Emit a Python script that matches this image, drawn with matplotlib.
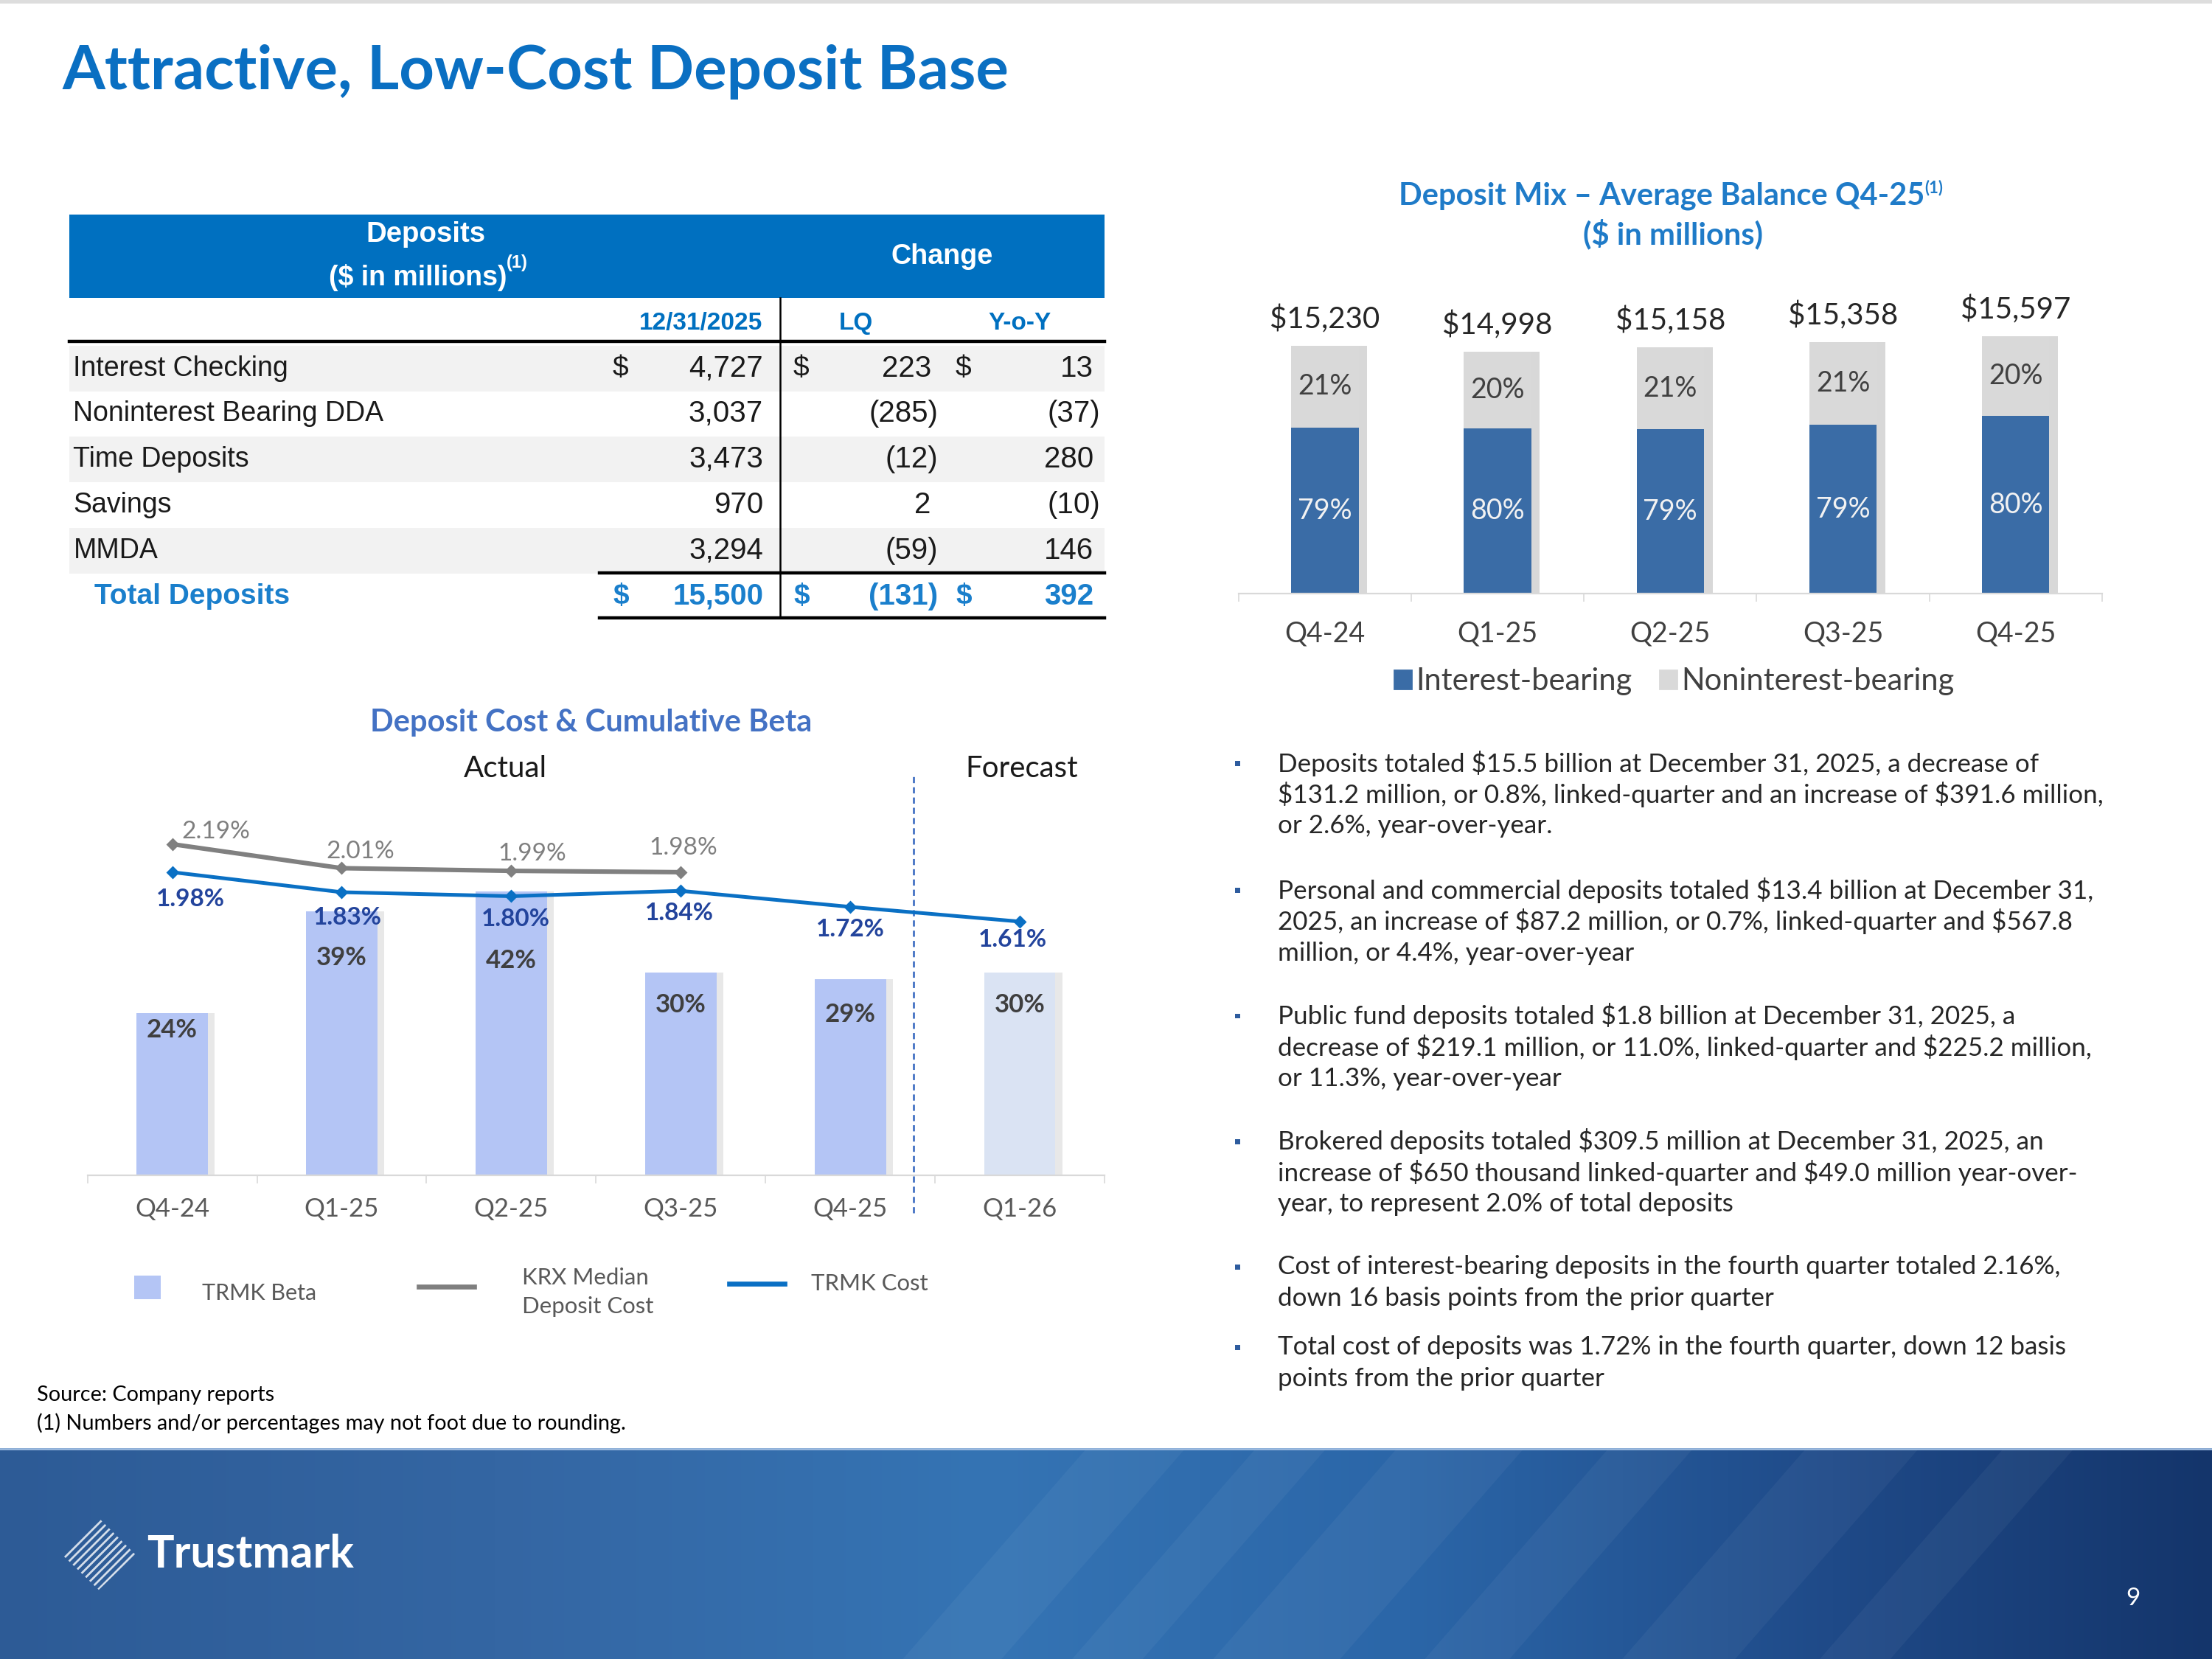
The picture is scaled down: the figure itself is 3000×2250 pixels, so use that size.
import numpy as np
import matplotlib.pyplot as plt
from matplotlib.patches import Rectangle, Polygon
from matplotlib.lines import Line2D
from matplotlib.colors import to_rgb

plt.rcParams['text.parse_math'] = False

# ---- data ----
row_labels = ['Interest Checking', 'Noninterest Bearing DDA', 'Time Deposits', 'Savings', 'MMDA']
balance_1231 = [4727, 3037, 3473, 970, 3294]
change_lq = [223, -285, -12, 2, -59]
change_yoy = [13, -37, 280, -10, 146]
total_row = [15500, -131, 392]

mix_quarters = ['Q4-24', 'Q1-25', 'Q2-25', 'Q3-25', 'Q4-25']
avg_balance = [15230, 14998, 15158, 15358, 15597]
interest_pct = [79, 80, 79, 79, 80]
nonint_pct = [21, 20, 21, 21, 20]

cost_quarters = ['Q4-24', 'Q1-25', 'Q2-25', 'Q3-25', 'Q4-25', 'Q1-26']
trmk_beta = [24, 39, 42, 30, 29, 30]
krx_cost = [2.19, 2.01, 1.99, 1.98]
trmk_cost = [1.98, 1.83, 1.80, 1.84, 1.72, 1.61]

bullets = [
    ["Deposits totaled $15.5 billion at December 31, 2025, a decrease of",
     "$131.2 million, or 0.8%, linked-quarter and an increase of $391.6 million,",
     "or 2.6%, year-over-year."],
    ["Personal and commercial deposits totaled $13.4 billion at December 31,",
     "2025, an increase of $87.2 million, or 0.7%, linked-quarter and $567.8",
     "million, or 4.4%, year-over-year"],
    ["Public fund deposits totaled $1.8 billion at December 31, 2025, a",
     "decrease of $219.1 million, or 11.0%, linked-quarter and $225.2 million,",
     "or 11.3%, year-over-year"],
    ["Brokered deposits totaled $309.5 million at December 31, 2025, an",
     "increase of $650 thousand linked-quarter and $49.0 million year-over-",
     "year, to represent 2.0% of total deposits"],
    ["Cost of interest-bearing deposits in the fourth quarter totaled 2.16%,",
     "down 16 basis points from the prior quarter"],
    ["Total cost of deposits was 1.72% in the fourth quarter, down 12 basis",
     "points from the prior quarter"],
]

# ---- layout helpers (slide in 1568 x 1176 px units) ----
W, H = 1568, 1176
PX = 11.25 * 72 / H   # points per slide px

def rect(x0, y0, x1, y1):
    return [x0 / W, 1 - y1 / H, (x1 - x0) / W, (y1 - y0) / H]

CAL = ['Lato', 'DejaVu Sans']
ARI = ['Liberation Sans', 'DejaVu Sans']
BLUE = '#0070C0'

fig = plt.figure(figsize=(15, 11.25), dpi=200)
bg = fig.add_axes([0, 0, 1, 1])
bg.axis('off')

bg.plot([0, W], [1, 1], color='#DDDDDD', lw=2)
bg.text(44, 51, 'Attractive, Low-Cost Deposit Base', fontsize=30, weight='bold',
        color='#0A6FC2', va='center', family=CAL)

# ---- table ----
bg.add_patch(Rectangle((49, 152), 734, 59, color=BLUE, lw=0))
bg.text(302, 166, 'Deposits', color='white', weight='bold', fontsize=13.8,
        ha='center', va='center', family=ARI)
t = bg.text(296, 197, '($ in millions)', color='white', weight='bold', fontsize=13.5,
            ha='center', va='center', family=ARI)
bg.annotate('(1)', xy=(1, 0.75), xycoords=t, color='white', weight='bold',
            fontsize=8.5, va='bottom', ha='left', family=ARI)
bg.text(668, 182, 'Change', color='white', weight='bold', fontsize=13.6,
        ha='center', va='center', family=ARI)
for xh, lab in [(497, '12/31/2025'), (607, 'LQ'), (723, 'Y-o-Y')]:
    bg.text(xh, 229, lab, color=BLUE, weight='bold', fontsize=12,
            ha='center', va='center', family=ARI)

row_top, row_h = 245, 32.3

def acct(v):
    return f'({abs(v):,})' if v < 0 else f'{v:,}'

def num(xr, y, v, **kw):
    bg.text(xr if v < 0 else xr - 5, y, acct(v), ha='right', va='center',
            fontsize=14.5, family=ARI, **kw)

for i, lab in enumerate(row_labels):
    yc = row_top + row_h * (i + 0.5)
    if i % 2 == 0:
        bg.add_patch(Rectangle((49, row_top + row_h * i), 734, row_h,
                               color='#F2F2F2', lw=0))
    bg.text(52, yc, lab, va='center', fontsize=13.5, family=ARI, color='#1A1A1A')
    num(546, yc, balance_1231[i], color='#1A1A1A')
    num(665, yc, change_lq[i], color='#1A1A1A')
    num(780, yc, change_yoy[i], color='#1A1A1A')
    if i == 0:
        for xd in (440, 568, 683):
            bg.text(xd, yc, '$', ha='center', va='center', fontsize=14,
                    family=ARI, color='#1A1A1A')

yt = row_top + row_h * 5.5
bg.text(67, yt, 'Total Deposits', va='center', fontsize=14, family=ARI,
        color='#1A7FCC', weight='bold')
for xr, v in zip((546, 665, 780), total_row):
    num(xr, yt, v, color='#1A7FCC', weight='bold')
for xd in (440, 568, 683):
    bg.text(xd, yt, '$', ha='center', va='center', fontsize=14, family=ARI,
            color='#1A7FCC', weight='bold')

bg.plot([49, 783], [242, 242], color='black', lw=1.6)
bg.plot([425, 783], [406, 406], color='black', lw=1.6)
bg.plot([425, 783], [438, 438], color='black', lw=1.6)
bg.plot([553, 553], [211, 438], color='black', lw=0.9)

# ---- deposit mix chart ----
tm = bg.text(1178, 139, 'Deposit Mix \u2013 Average Balance Q4-25', fontsize=15, weight='bold',
             color='#1F7BC8', ha='center', va='center', family=CAL)
bg.annotate('(1)', xy=(1, 0.8), xycoords=tm, fontsize=8, weight='bold', color='#1F7BC8',
            ha='left', va='center', family=CAL)
bg.text(1186, 166, '($ in millions)', fontsize=15, weight='bold',
        color='#1F7BC8', ha='center', va='center', family=CAL)

ax1 = fig.add_axes(rect(878, 200, 1490, 421))
ax1.patch.set_alpha(0)
xi = np.arange(len(mix_quarters))
interest = np.array(avg_balance) * np.array(interest_pct) / 100
nonint = np.array(avg_balance) - interest
bw = 0.39
ax1.bar(xi + 0.05, avg_balance, bw, color='#7F7F7F', alpha=0.3, lw=0, zorder=1)
ax1.bar(xi, interest, bw, color='#3A6CA6', lw=0, zorder=2)
ax1.bar(xi, nonint, bw, bottom=interest, color='#D9D9D9', lw=0, zorder=2)
y0 = 5550
ax1.set_ylim(y0, y0 + 221 * 55)
ax1.set_xlim(-0.5, len(mix_quarters) - 0.5)
for i in xi:
    ax1.text(i, (y0 + interest[i]) / 2, f'{interest_pct[i]}%', ha='center', va='center',
             color='#F2F2F2', fontsize=13.5, family=CAL, zorder=3)
    ax1.text(i, interest[i] + nonint[i] / 2, f'{nonint_pct[i]}%', ha='center', va='center',
             color='#404040', fontsize=13.5, family=CAL, zorder=3)
    ax1.annotate(f'${avg_balance[i]:,}', (i, avg_balance[i]), xytext=(0, 6),
                 textcoords='offset points', ha='center', va='bottom',
                 fontsize=14.5, color='#262626', family=CAL)
for s in ('top', 'left', 'right'):
    ax1.spines[s].set_visible(False)
ax1.spines['bottom'].set_color('#D9D9D9')
ax1.set_yticks([])
ax1.set_xticks(xi)
ax1.set_xticklabels(mix_quarters, fontsize=13.5, color='#404040', family=CAL)
ax1.set_xticks(np.arange(-0.5, len(mix_quarters)), minor=True)
ax1.tick_params(axis='x', which='major', length=0, pad=13)
ax1.tick_params(axis='x', which='minor', length=4, color='#D9D9D9')
hnd = [Rectangle((0, 0), 1, 1, color='#3A6CA6'), Rectangle((0, 0), 1, 1, color='#D9D9D9')]
leg = ax1.legend(hnd, ['Interest-bearing', 'Noninterest-bearing'], ncol=2, frameon=False,
                 loc='center', bbox_to_anchor=(1187 / W, 1 - 483 / H),
                 bbox_transform=fig.transFigure, handlelength=0.55, handleheight=0.55,
                 handletextpad=0.15, columnspacing=0.9, prop={'family': CAL, 'size': 15})
for tx in leg.get_texts():
    tx.set_color('#404040')

# ---- deposit cost chart ----
bg.text(419, 512, 'Deposit Cost & Cumulative Beta', fontsize=15, weight='bold',
        color='#4472C4', ha='center', va='center', family=CAL)
bg.text(358, 545, 'Actual', fontsize=14.5, ha='center', va='center', family=CAL, color='#1A1A1A')
bg.text(724, 545, 'Forecast', fontsize=14.5, ha='center', va='center', family=CAL, color='#1A1A1A')

ax2 = fig.add_axes(rect(62, 570, 783, 833))
ax2.patch.set_alpha(0)
xc = np.arange(len(cost_quarters))
bar_cols = ['#B4C5F5'] * 5 + ['#DAE3F3']
ax2.bar(xc + 0.04, trmk_beta, 0.42, color='#808080', alpha=0.18, lw=0, zorder=1)
ax2.bar(xc, trmk_beta, 0.42, color=bar_cols, lw=0, zorder=2)
ax2.set_ylim(0, 263 / 4.79)
ax2.set_xlim(-0.5, len(cost_quarters) - 0.5)
beta_drop = [12, 33, 49, 23, 25, 23]
for i in xc:
    ax2.annotate(f'{trmk_beta[i]}%', (i, trmk_beta[i]), xytext=(0, -beta_drop[i] * PX),
                 textcoords='offset points', ha='center', va='center',
                 fontsize=12.5, color='#3F3F3F', weight='bold', family=CAL, zorder=3)
for s in ('top', 'left', 'right'):
    ax2.spines[s].set_visible(False)
ax2.spines['bottom'].set_color('#D9D9D9')
ax2.set_yticks([])
ax2.set_xticks(xc)
ax2.set_xticklabels(cost_quarters, fontsize=12.5, color='#595959', family=CAL)
ax2.set_xticks(np.arange(-0.5, len(cost_quarters)), minor=True)
ax2.tick_params(axis='x', which='major', length=0, pad=11)
ax2.tick_params(axis='x', which='minor', length=4, color='#D9D9D9')

ax3 = ax2.twinx()
ax3.set_ylim(-0.29, -0.29 + 263 / 94.6)
ax3.axis('off')
ax3.plot(xc[:len(krx_cost)], krx_cost, color='#808080', lw=2.2, marker='D', ms=3.5, zorder=4)
ax3.plot(xc, trmk_cost, color='#0A70C4', lw=1.8, marker='D', ms=3.5, zorder=5)
krx_off = [(31, -9), (13, -12), (15, -12), (2, -17)]
trmk_off = [(13, 19), (4, 18), (3, 16), (-1, 16), (0, 16), (-5, 13)]
for i, v in enumerate(krx_cost):
    dx, dy = krx_off[i]
    ax3.annotate(f'{v:.2f}%', (i, v), xytext=(dx * PX, -dy * PX), textcoords='offset points',
                 ha='center', va='center', fontsize=12, color='#7F7F7F', family=CAL)
for i, v in enumerate(trmk_cost):
    dx, dy = trmk_off[i]
    ax3.annotate(f'{v:.2f}%', (i, v), xytext=(dx * PX, -dy * PX), textcoords='offset points',
                 ha='center', va='center', fontsize=12, color='#23449C', weight='bold',
                 family=CAL)
ax2.axvline(4.375, ymin=(833 - 860) / 263, ymax=(833 - 548) / 263, color='#4472C4',
            lw=1, ls=(0, (3, 2)), clip_on=False, zorder=6)

# legend for the cost chart
bg.add_patch(Rectangle((95, 904), 19, 17, color='#B4C5F5', lw=0))
bg.text(143, 917, 'TRMK Beta', fontsize=11, color='#595959', va='center', family=CAL)
bg.add_line(Line2D([297, 336], [912, 912], color='#7F7F7F', lw=2.4))
bg.text(370, 906, 'KRX Median', fontsize=11.2, color='#595959', va='center', family=CAL)
bg.text(370, 926, 'Deposit Cost', fontsize=11.2, color='#595959', va='center', family=CAL)
bg.add_line(Line2D([517, 556], [910, 910], color='#0A70C4', lw=2.4))
bg.text(575, 910, 'TRMK Cost', fontsize=11.2, color='#595959', va='center', family=CAL)

# ---- bullets ----
bullet_y = [541, 631, 720, 809, 898, 955]
for y, lines in zip(bullet_y, bullets):
    bg.add_patch(Rectangle((875.5, y - 1.5), 3.5, 3.5, color='#2E5C9E', lw=0))
    for k, ln in enumerate(lines):
        bg.text(906, y + k * 22.3, ln, fontsize=12.6, color='#262626', va='center', family=CAL)

# ---- footnotes ----
bg.text(26, 989, 'Source: Company reports', fontsize=10.4, va='center', family=CAL, color='black')
bg.text(26, 1009, '(1) Numbers and/or percentages may not foot due to rounding.',
        fontsize=10.4, va='center', family=CAL, color='black')

# ---- footer banner ----
gx = np.linspace(0, W, 800)
ax_pts = [0, 350, 700, 1000, 1300, 1568]
cols = [to_rgb(c) for c in ['#2D5B96', '#3466A3', '#3574B4', '#2B66A8', '#1F4A88', '#14356B']]
grad = np.stack([np.interp(gx, ax_pts, [c[ch] for c in cols]) for ch in range(3)], axis=-1)
bg.imshow(grad[None, :, :], extent=[0, W, H, 1027], aspect='auto', zorder=0.5)
for xa, wd in [(640, 70), (760, 50), (860, 90), (1010, 60), (1150, 80), (1290, 50)]:
    bg.add_patch(Polygon([(xa, H), (xa + wd, H), (xa + wd + 130, 1027), (xa + 130, 1027)],
                         closed=True, color='white', alpha=0.045, lw=0, zorder=0.6))
bg.plot([0, W], [1027, 1027], color='#9DBBE0', lw=1, zorder=0.7)
bg.add_patch(Polygon([(70, 1076), (96, 1102), (70, 1127), (44, 1102)], closed=True,
                     facecolor='none', edgecolor='white', hatch='//////', lw=0, alpha=0.8,
                     zorder=0.8))
bg.text(104, 1102, 'Trustmark', fontsize=22, weight='bold', color='white', va='center',
        family=CAL, zorder=0.9)
bg.text(1512, 1133, '9', fontsize=12, color='white', ha='center', va='center',
        family=CAL, zorder=0.9)

bg.set_xlim(0, W)
bg.set_ylim(H, 0)

fig.savefig('out.png', dpi=200)
